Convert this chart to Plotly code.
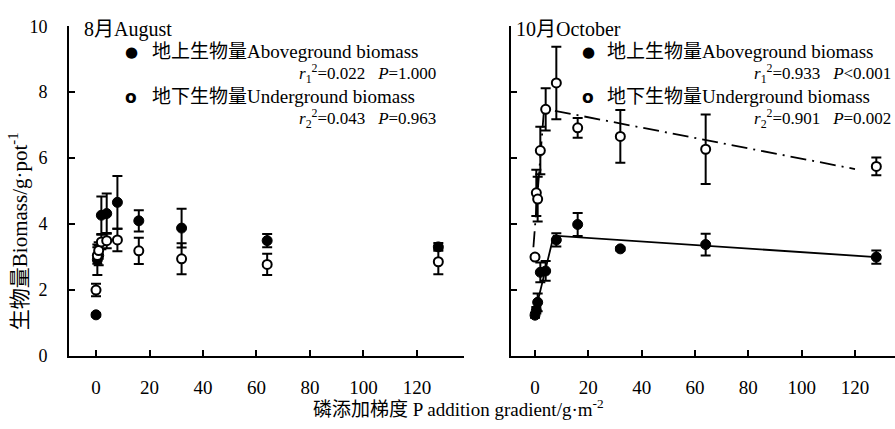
import plotly.graph_objects as go

# ---------------- data ----------------
p_levels = [0, 0.5, 1, 2, 4, 8, 16, 32, 64, 128]

aug_above = [1.25, 2.92, 3.05, 4.27, 4.32, 4.66, 4.10, 3.88, 3.50, 3.31]
aug_above_err = [0.05, 0.46, 0.30, 0.57, 0.61, 0.80, 0.32, 0.59, 0.20, 0.12]
aug_under = [2.00, 3.05, 3.20, 3.46, 3.50, 3.52, 3.19, 2.95, 2.78, 2.86]
aug_under_err = [0.19, 0.25, 0.25, 0.22, 0.23, 0.34, 0.40, 0.47, 0.32, 0.38]

oct_above = [1.24, 1.39, 1.63, 2.54, 2.58, 3.52, 3.99, 3.25, 3.38, 3.00]
oct_above_err = [0.08, 0.10, 0.27, 0.30, 0.30, 0.20, 0.35, 0.05, 0.33, 0.20]
oct_under = [3.00, 4.95, 4.76, 6.23, 7.48, 8.28, 6.92, 6.66, 6.27, 5.75]
oct_under_err = [0.05, 0.70, 0.68, 0.72, 0.64, 1.10, 0.30, 0.80, 1.05, 0.27]

# piecewise fitted lines (October)
oct_above_fit_x = [-0.5, 7, 128]
oct_above_fit_y = [1.15, 3.65, 3.00]
oct_under_fit_x = [-0.6, 3.4, 120]
oct_under_fit_y = [3.30, 7.50, 5.67]

x_ticks = [0, 20, 40, 60, 80, 100, 120]
y_ticks = [0, 2, 4, 6, 8, 10]

aug_stats = ["<i>r</i><sub>1</sub><sup>2</sup>=0.022   <i>P</i>=1.000",
             "<i>r</i><sub>2</sub><sup>2</sup>=0.043   <i>P</i>=0.963"]
oct_stats = ["<i>r</i><sub>1</sub><sup>2</sup>=0.933   <i>P</i>&lt;0.001",
             "<i>r</i><sub>2</sub><sup>2</sup>=0.901   <i>P</i>=0.002"]
label_above = "地上生物量Aboveground biomass"
label_under = "地下生物量Underground biomass"

# ---------------- figure ----------------
W, H = 895, 429
FONT = "Liberation Serif, Times New Roman, Noto Sans CJK SC, serif"


def px(x):
    return x / W


def py(y):
    return 1 - y / H


fig = go.Figure()

err_style = dict(type="data", color="black", thickness=2, width=5)


def add_series(xa, ya, vals, errs, filled):
    if filled:
        marker = dict(symbol="circle", size=10, color="black",
                      line=dict(color="black", width=1))
    else:
        marker = dict(symbol="circle", size=9, color="white",
                      line=dict(color="black", width=2))
    fig.add_trace(go.Scatter(
        x=p_levels, y=vals, mode="markers", marker=marker,
        error_y=dict(array=errs, **err_style),
        xaxis=xa, yaxis=ya, showlegend=False, cliponaxis=False))


# fitted lines October
fig.add_trace(go.Scatter(x=oct_above_fit_x, y=oct_above_fit_y, mode="lines",
                         line=dict(color="black", width=1.8),
                         xaxis="x2", yaxis="y2", showlegend=False))
fig.add_trace(go.Scatter(x=oct_under_fit_x, y=oct_under_fit_y, mode="lines",
                         line=dict(color="black", width=1.8, dash="16px,6px,2px,6px"),
                         xaxis="x2", yaxis="y2", showlegend=False))

add_series("x", "y", aug_above, aug_above_err, True)
add_series("x", "y", aug_under, aug_under_err, False)
add_series("x2", "y2", oct_above, oct_above_err, True)
add_series("x2", "y2", oct_under, oct_under_err, False)

y_domain = [(H - 363) / H, (H - 17) / H]

common_x = dict(tickvals=x_ticks, ticks="inside", ticklen=6, tickwidth=2,
                tickcolor="black", showline=True, linewidth=2, linecolor="black",
                showgrid=False, zeroline=False,
                tickfont=dict(family=FONT, size=19, color="black"),
                ticklabelstandoff=13)
common_y = dict(range=[0, 10], tickvals=y_ticks, ticks="inside", ticklen=6,
                tickwidth=2, tickcolor="black", showline=True, linewidth=2,
                linecolor="black", showgrid=False, zeroline=False,
                domain=y_domain,
                tickfont=dict(family=FONT, size=18, color="black"))

fig.update_layout(
    width=W, height=H,
    margin=dict(l=0, r=0, t=0, b=0),
    paper_bgcolor="white", plot_bgcolor="white",
    font=dict(family=FONT, color="black"),
    xaxis=dict(domain=[69 / W, 464 / W], range=[-10.1, 137.6], anchor="y", **common_x),
    yaxis=dict(anchor="x", ticklabelstandoff=16, **common_y),
    xaxis2=dict(domain=[511 / W, 1.0], range=[-9.0, 135.0], anchor="y2", **common_x),
    yaxis2=dict(anchor="x2", showticklabels=False, **common_y),
)

ann = []
TF = dict(family=FONT, size=20, color="black")
LF = dict(family=FONT, size=19, color="black")
SF = dict(family=FONT, size=17, color="black")
# panel titles
ann.append(dict(x=px(82), y=py(20), text="8月August", xanchor="left", yanchor="middle",
                font=TF))
ann.append(dict(x=px(514), y=py(20), text="10月October", xanchor="left", yanchor="middle",
                font=TF))

rows = [44, 67, 91, 114]
for mx, tx, rx, stats in [(131, 150, 438, aug_stats), (588, 605, 893, oct_stats)]:
    ann.append(dict(x=px(mx), y=py(rows[0]), text="●", xanchor="center", yanchor="middle",
                    font=dict(family="DejaVu Sans", size=15, color="black")))
    ann.append(dict(x=px(tx), y=py(rows[0]), text=label_above, xanchor="left",
                    yanchor="middle", font=LF))
    ann.append(dict(x=px(rx), y=py(rows[1]), text=stats[0], xanchor="right",
                    yanchor="middle", font=SF))
    ann.append(dict(x=px(mx), y=py(rows[2]), text="<b>o</b>", xanchor="center",
                    yanchor="middle", font=dict(family="DejaVu Sans", size=17, color="black")))
    ann.append(dict(x=px(tx), y=py(rows[2]), text=label_under, xanchor="left",
                    yanchor="middle", font=LF))
    ann.append(dict(x=px(rx), y=py(rows[3]), text=stats[1], xanchor="right",
                    yanchor="middle", font=SF))

# axis titles
ann.append(dict(x=px(459), y=py(417), text="磷添加梯度 P addition gradient/g·m<sup>-2</sup>",
                xanchor="center", yanchor="middle",
                font=dict(family=FONT, size=19, color="black")))
ann.append(dict(x=px(18), y=py(232), text="生物量Biomass/g·pot<sup>-1</sup>",
                textangle=-90, xanchor="center", yanchor="middle",
                font=dict(family=FONT, size=21, color="black")))

for a in ann:
    a.update(xref="paper", yref="paper", showarrow=False)
fig.update_layout(annotations=ann)

fig.write_html("out.html")
